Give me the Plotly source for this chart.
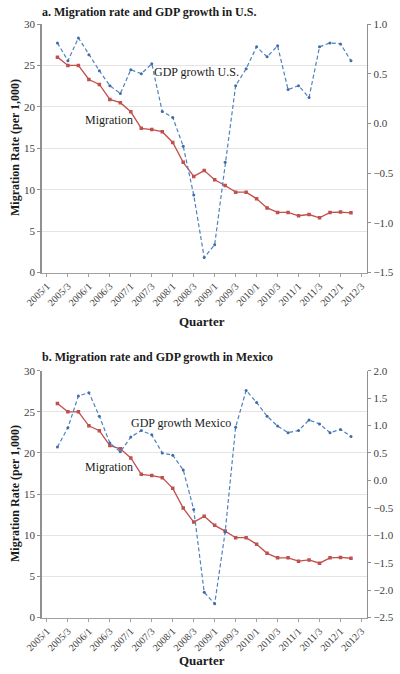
import plotly.graph_objects as go

quarters = [f"{y}/{q}" for y in range(2005, 2013) for q in range(1, 5)][:31]
data_quarters = quarters[1:30]
tick_labels = quarters[::2]

migration = [26.0, 25.0, 25.0, 23.3, 22.7, 20.9, 20.5, 19.4, 17.4, 17.25, 17.0,
             15.7, 13.3, 11.6, 12.3, 11.2, 10.5, 9.7, 9.7, 8.9, 7.8, 7.25, 7.25,
             6.85, 7.0, 6.6, 7.25, 7.3, 7.2]
gdp_us = [0.81, 0.63, 0.86, 0.69, 0.53, 0.38, 0.30, 0.54, 0.50, 0.60, 0.12,
          0.06, -0.23, -0.72, -1.35, -1.22, -0.39, 0.38, 0.55, 0.77, 0.67, 0.78,
          0.34, 0.38, 0.26, 0.77, 0.81, 0.80, 0.63]
gdp_mx = [0.61, 0.96, 1.54, 1.60, 1.17, 0.68, 0.52, 0.79, 0.91, 0.83, 0.50,
          0.46, 0.19, -0.53, -2.04, -2.25, -0.94, 0.97, 1.64, 1.42, 1.17, 0.99,
          0.87, 0.91, 1.10, 1.03, 0.87, 0.93, 0.80]

RED = "#C0504D"
BLUE = "#4F81BD"
SERIF = "Liberation Serif"
W, H = 400, 674

def py(px):
    return 1 - px / H

fig = go.Figure()

panels = [
    dict(gdp=gdp_us, x="x", y="y", y2="y2"),
    dict(gdp=gdp_mx, x="x2", y="y3", y2="y4"),
]

for p in panels:
    fig.add_trace(go.Scatter(x=data_quarters, y=migration, xaxis=p["x"], yaxis=p["y"],
                             mode="lines+markers", line=dict(color=RED, width=1.3),
                             marker=dict(symbol="square", size=3.5, color=RED),
                             showlegend=False, hoverinfo="skip"))
    fig.add_trace(go.Scatter(x=data_quarters, y=p["gdp"], xaxis=p["x"], yaxis=p["y2"],
                             mode="lines+markers",
                             line=dict(color=BLUE, width=1.2, dash="4px,2.5px"),
                             marker=dict(symbol="circle", size=3, color="#3E6DA8"),
                             showlegend=False, hoverinfo="skip"))

xdom = [41.7 / W, 366.7 / W]
tickfont = dict(family=SERIF, size=10, color="#404040")
common_x = dict(type="category", categoryorder="array", categoryarray=quarters,
                range=[-0.5, 30.5], domain=xdom, tickmode="array",
                tickvals=tick_labels, ticktext=tick_labels, tickangle=-45,
                tickfont=tickfont, showline=True, linecolor="#A0A0A0", linewidth=1,
                ticks="outside", ticklen=3, tickcolor="#A0A0A0", showgrid=False,
                zeroline=False, automargin=False)

def left_y(dom, anchor):
    return dict(domain=dom, anchor=anchor, range=[0, 30], dtick=5,
                tickfont=dict(family=SERIF, size=11, color="#404040"),
                showline=True, linecolor="#909090", linewidth=1.5,
                ticks="outside", ticklen=3, tickcolor="#909090",
                showgrid=True, gridcolor="#E4E4E4", gridwidth=1, zeroline=False,
                automargin=False)

def right_y(overlay, anchor, rng, dtick, fmt):
    return dict(overlaying=overlay, anchor=anchor, side="right", range=rng,
                dtick=dtick, tickformat=fmt,
                tickfont=dict(family=SERIF, size=11, color="#404040"),
                showline=True, linecolor="#909090", linewidth=1.5,
                ticks="outside", ticklen=3, tickcolor="#909090",
                showgrid=False, zeroline=False, automargin=False)

dom_a = [py(272.5), py(24)]
dom_b = [py(617.5), py(370.7)]

fig.update_layout(
    width=W, height=H, margin=dict(l=0, r=0, t=0, b=0, autoexpand=False),
    paper_bgcolor="white", plot_bgcolor="white",
    xaxis=dict(common_x, anchor="y"),
    xaxis2=dict(common_x, anchor="y3"),
    yaxis=left_y(dom_a, "x"),
    yaxis2=right_y("y", "x", [-1.5, 1.0], 0.5, ".1f"),
    yaxis3=left_y(dom_b, "x2"),
    yaxis4=right_y("y3", "x2", [-2.5, 2.0], 0.5, ".1f"),
    font=dict(family=SERIF),
    hovermode=False,
)

ann = []
def text(x, y, s, size=12, bold=False, angle=0, xanchor="center"):
    ann.append(dict(x=x / W, y=py(y), xref="paper", yref="paper", text=(f"<b>{s}</b>" if bold else s),
                    showarrow=False, textangle=angle, xanchor=xanchor, yanchor="middle",
                    font=dict(family=SERIF, size=size, color="#1a1a1a")))

text(40, 12, "a. Migration rate and GDP growth in U.S.", 12, True, xanchor="left")
text(40, 357, "b. Migration rate and GDP growth in Mexico", 12, True, xanchor="left")
text(15, 148, "Migration Rate (per 1,000)", 12, True, angle=-90)
text(15, 494, "Migration Rate (per 1,000)", 12, True, angle=-90)
text(202, 322, "Quarter", 13, True)
text(202, 660, "Quarter", 13, True)
text(196, 72, "GDP growth U.S.", 12)
text(109, 120, "Migration", 12)
text(181, 423, "GDP growth Mexico", 12)
text(109, 467, "Migration", 12)
fig.update_layout(annotations=ann)

fig.write_html("out.html", config={"displayModeBar": False, "staticPlot": True},
               post_script="document.body.style.margin='0';document.body.style.overflow='hidden';")
